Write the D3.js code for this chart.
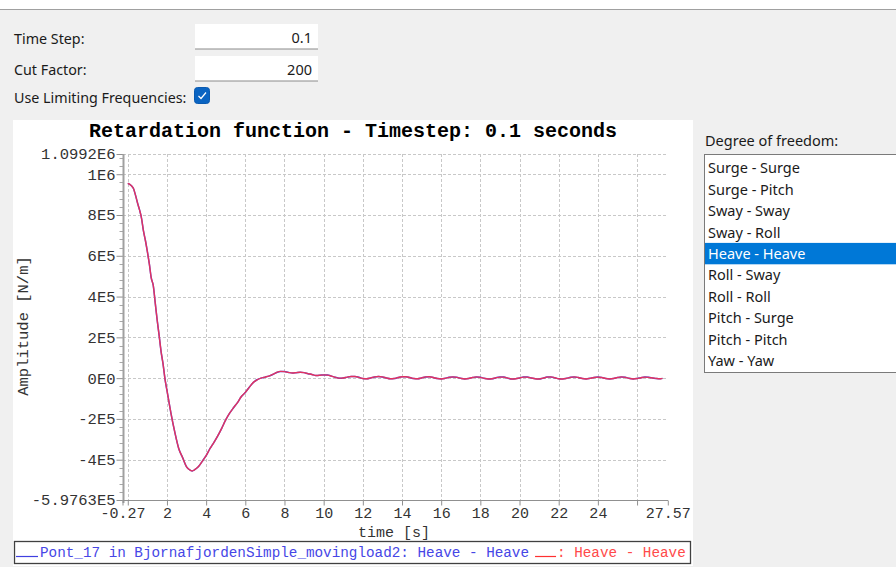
<!DOCTYPE html>
<html>
<head>
<meta charset="utf-8">
<script src="https://cdn.jsdelivr.net/npm/d3@7"></script>
<style>
  html, body { margin: 0; padding: 0; background: #f0f0f0; }
  svg { display: block; }
</style>
</head>
<body>
<svg id="root" width="896" height="567"></svg>
<script>
// ---- Data ----
const times = [0,0.1,0.2,0.3,0.4,0.5,0.6,0.7,0.8,0.9,1.0,1.1,1.2,1.3,1.4,1.5,1.6,1.7,1.8,1.9,2.0,
  2.2,2.4,2.6,2.8,3.0,3.2,3.3,3.4,3.6,3.8,4.0,4.2,4.4,4.6,4.8,5.0,5.2,5.4,5.6,5.8,6.0,6.2,6.4,6.6,6.8,
  7.0,7.2,7.4,7.6,7.8,8.0,8.2,8.4,8.6,8.8,9.0,9.2,9.4,9.6,9.8,10.0,10.2,10.4,10.6,10.8,11.0,11.2,11.4,
  11.6,11.8,12.0,12.2,12.4,12.6,12.8,13.0,13.2,13.4,13.6,13.8,14.0,14.2,14.4,14.6,14.8,15.0,15.2,15.4,
  15.6,15.8,16.0,16.2,16.4,16.6,16.8,17.0,17.2,17.4,17.6,17.8,18.0,18.2,18.4,18.6,18.8,19.0,19.2,19.4,
  19.6,19.8,20.0,20.2,20.4,20.6,20.8,21.0,21.2,21.4,21.6,21.8,22.0,22.2,22.4,22.6,22.8,23.0,23.2,23.4,
  23.6,23.8,24.0,24.2,24.4,24.6,24.8,25.0,25.2,25.4,25.6,25.8,26.0,26.2,26.4,26.6,26.8,27.0,27.2,27.3];
const amplitude = [955000,950000,942000,928000,895000,858000,825000,785000,722000,675000,620000,560000,490000,
  455000,370000,285000,210000,130000,70000,-5000,-60000,
  -170000,-265000,-345000,-390000,-435000,-452000,-455000,-450000,-435000,-408000,-380000,-345000,-315000,
  -282000,-245000,-205000,-172000,-145000,-120000,-90000,-70000,-45000,-22000,-8000,0,
  5000,10000,18000,28000,33000,32000,28000,25000,27000,29000,27000,22000,18000,13000,14000,16000,15000,
  10000,4000,0,1000,5000,8000,8000,4000,-2000,-3000,1000,6000,8000,6000,1000,-3000,-2000,3000,7000,7000,
  3000,-2000,-3000,1000,6000,7000,3000,-2000,-4000,-1000,4000,6000,4000,-1000,-4000,-2000,3000,6000,
  4000,-1000,-4000,-3000,2000,5000,5000,0,-4000,-3000,1000,5000,5000,1000,-3000,-4000,0,5000,6000,2000,
  -3000,-4000,-1000,4000,6000,3000,-2000,-4000,-1000,3000,5000,3000,-2000,-4000,-2000,3000,6000,4000,
  -1000,-4000,-2000,2000,5000,4000,1000,-2000,-3000,-1000];

const xTicks = [-0.27,0,2,4,6,8,10,12,14,16,18,20,22,24,26,27.57];
const xTickLabels = ["-0.27","","2","4","6","8","10","12","14","16","18","20","22","24","","27.57"];
const yTicks = [-597630,-400000,-200000,0,200000,400000,600000,800000,1000000,1099200];
const yTickLabels = ["-5.9763E5","-4E5","-2E5","0E0","2E5","4E5","6E5","8E5","1E6","1.0992E6"];
const xGrid = [0,2,4,6,8,10,12,14,16,18,20,22,24,26];

const titleText = "Retardation function - Timestep: 0.1 seconds";
const xLabel = "time [s]";
const yLabel = "Amplitude [N/m]";
const legendSeries = ["Pont_17 in BjornafjordenSimple_movingload2: Heave - Heave", ": Heave - Heave"];
const dofItems = ["Surge - Surge","Surge - Pitch","Sway - Sway","Sway - Roll","Heave - Heave",
  "Roll - Sway","Roll - Roll","Pitch - Surge","Pitch - Pitch","Yaw - Yaw"];
const selectedDof = "Heave - Heave";
const formLabels = ["Time Step:", "Cut Factor:", "Use Limiting Frequencies:"];
const formValues = ["0.1", "200"];

// ---- Drawing ----
const svg = d3.select("#root");
const uiFont = "'Noto Sans', 'Open Sans', sans-serif";
const monoFont = "'Liberation Mono', 'DejaVu Sans Mono', monospace";

// top strip
svg.append("rect").attr("x",0).attr("y",0).attr("width",896).attr("height",9).attr("fill","#ffffff");
svg.append("line").attr("x1",0).attr("x2",896).attr("y1",9.5).attr("y2",9.5).attr("stroke","#a0a0a0");

// form
const formY = [44, 75, 103];
formLabels.forEach((t,i)=>{
  svg.append("text").attr("x",14).attr("y",formY[i]).attr("font-family",uiFont)
    .attr("font-size",14.3).attr("fill","#1a1a1a").text(t);
});
const boxY = [24, 56];
formValues.forEach((v,i)=>{
  svg.append("rect").attr("x",195).attr("y",boxY[i]).attr("width",123).attr("height",25)
    .attr("fill","#ffffff");
  svg.append("line").attr("x1",195).attr("x2",318).attr("y1",boxY[i]+25).attr("y2",boxY[i]+25)
    .attr("stroke","#8a8a8a").attr("stroke-width",1);
  svg.append("text").attr("x",312).attr("y",boxY[i]+19).attr("text-anchor","end")
    .attr("font-family",uiFont).attr("font-size",14.5).attr("fill","#1a1a1a").text(v);
});
// checkbox
svg.append("rect").attr("x",194.5).attr("y",87.5).attr("width",15).attr("height",16).attr("rx",3)
  .attr("fill","#0a64c2").attr("stroke","#0a5ab0");
svg.append("path").attr("d","M198.5,96 L201,98.5 L206,92.5").attr("fill","none")
  .attr("stroke","#ffffff").attr("stroke-width",1.2);

// chart panel
svg.append("rect").attr("x",13).attr("y",120).attr("width",680).attr("height",446).attr("fill","#ffffff");

const x = d3.scaleLinear().domain([-0.27, 27.57]).range([122.5, 667.8]);
const y = d3.scaleLinear().domain([-597630, 1099200]).range([500, 154]);

// grid
const grid = svg.append("g").attr("stroke","#c8c8c8").attr("stroke-dasharray","3,2").attr("stroke-width",1);
xGrid.forEach(t=>{
  grid.append("line").attr("x1",Math.round(x(t))+0.5).attr("x2",Math.round(x(t))+0.5)
    .attr("y1",154).attr("y2",500);
});
yTicks.forEach(v=>{
  grid.append("line").attr("x1",123).attr("x2",668).attr("y1",Math.round(y(v))+0.5).attr("y2",Math.round(y(v))+0.5);
});

// y axis with minor ticks
const yAxis = d3.axisLeft(y).tickValues(yTicks).tickFormat((d,i)=>yTickLabels[i]).tickSize(7).tickPadding(0);
const gy = svg.append("g").attr("transform","translate(123.5,0)").call(yAxis);
gy.select(".domain").remove();
gy.selectAll(".tick line").attr("stroke","#909090");
gy.selectAll(".tick text").attr("font-family",monoFont).attr("font-size",15.5).attr("fill","#333333").attr("dx",-1);
const minor = d3.range(-560000, 1099200, 40000).filter(v=>yTicks.indexOf(v)<0);
svg.append("g").selectAll("line").data(minor).join("line")
  .attr("x1",119.5).attr("x2",123).attr("y1",d=>Math.round(y(d))+0.5).attr("y2",d=>Math.round(y(d))+0.5)
  .attr("stroke","#a8a8a8");
svg.append("line").attr("x1",123.5).attr("x2",123.5).attr("y1",154).attr("y2",503)
  .attr("stroke","#a0a0a0").attr("stroke-width",2);

// x axis
const xAxis = d3.axisBottom(x).tickValues(xTicks).tickFormat((d,i)=>xTickLabels[i]).tickSize(5).tickPadding(2);
const gx = svg.append("g").attr("transform","translate(0,500.5)").call(xAxis);
gx.select(".domain").attr("d","M123,0H668").attr("stroke","#909090");
gx.selectAll(".tick line").attr("stroke","#909090");
gx.selectAll(".tick text").attr("font-family",monoFont).attr("font-size",15).attr("fill","#333333");

// title and axis labels
svg.append("text").attr("x",353).attr("y",137).attr("text-anchor","middle").attr("font-family",monoFont)
  .attr("font-weight","bold").attr("font-size",20).attr("fill","#000000").text(titleText);
svg.append("text").attr("x",394).attr("y",537).attr("text-anchor","middle").attr("font-family",monoFont)
  .attr("font-size",15).attr("fill","#333333").text(xLabel);
svg.append("text").attr("transform","translate(28,326) rotate(-90)").attr("text-anchor","middle")
  .attr("font-family",monoFont).attr("font-size",15.5).attr("fill","#333333").text(yLabel);

// series (blue series drawn first, red series over it)
const pts = times.map((t,i)=>[t, amplitude[i]]).filter(d=>d[1]!==undefined);
const line = d3.line().x(d=>x(d[0])).y(d=>y(d[1])).curve(d3.curveMonotoneX);
svg.append("path").datum(pts).attr("d",line).attr("fill","none").attr("stroke","#4040e0").attr("stroke-width",1.5);
svg.append("path").datum(pts).attr("d",line).attr("fill","none").attr("stroke","#ff3048").attr("stroke-width",1.4).attr("opacity",0.85);

// legend
svg.append("rect").attr("x",14.5).attr("y",541.5).attr("width",676).attr("height",22)
  .attr("fill","#ffffff").attr("stroke","#404040").attr("stroke-width",1.3);
svg.append("line").attr("x1",16).attr("x2",38).attr("y1",556.5).attr("y2",556.5).attr("stroke","#4040e0").attr("stroke-width",1.2);
const lt1 = svg.append("text").attr("x",40).attr("y",557).attr("font-family",monoFont).attr("font-size",14.3)
  .attr("fill","#4646e6").text(legendSeries[0]);
const w1 = lt1.node().getComputedTextLength();
svg.append("line").attr("x1",40+w1+6).attr("x2",40+w1+27).attr("y1",556.5).attr("y2",556.5).attr("stroke","#ff3030").attr("stroke-width",1.2);
svg.append("text").attr("x",40+w1+28).attr("y",557).attr("font-family",monoFont).attr("font-size",14.3)
  .attr("fill","#ff4a4a").text(legendSeries[1]);

// right panel: list
svg.append("text").attr("x",705).attr("y",146).attr("font-family",uiFont).attr("font-size",14.5)
  .attr("fill","#1a1a1a").text("Degree of freedom:");
svg.append("rect").attr("x",704.5).attr("y",154.5).attr("width",200).attr("height",218)
  .attr("fill","#ffffff").attr("stroke","#7a7a7a");
dofItems.forEach((d,i)=>{
  const cy = 168.3 + i*21.4;
  const sel = d===selectedDof;
  if (sel) svg.append("rect").attr("x",705).attr("y",cy-11).attr("width",191).attr("height",21.4).attr("fill","#0078d7");
  svg.append("text").attr("x",708).attr("y",cy+5).attr("font-family",uiFont).attr("font-size",14.5)
    .attr("fill", sel ? "#ffffff" : "#1a1a1a").text(d);
});
</script>
</body>
</html>
